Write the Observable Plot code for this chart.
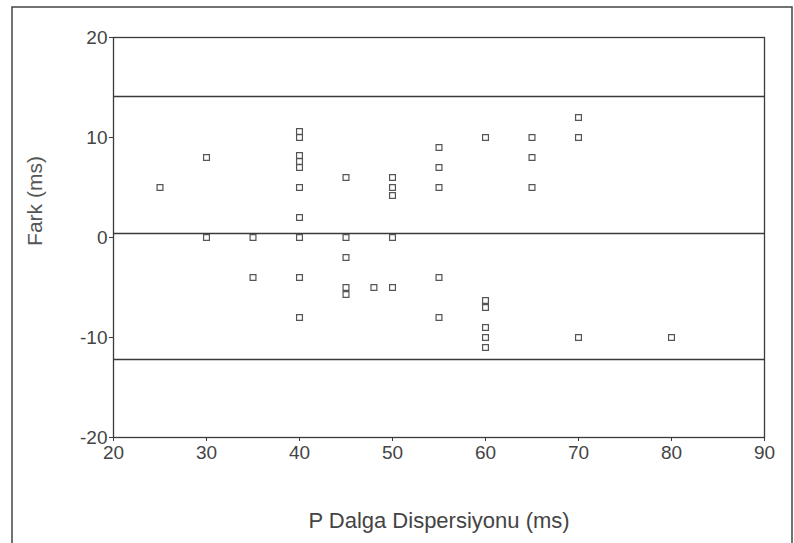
<!DOCTYPE html>
<html>
<head>
<meta charset="utf-8">
<script src="https://cdn.jsdelivr.net/npm/d3@7"></script>
<script src="https://cdn.jsdelivr.net/npm/@observablehq/plot@0.6"></script>
<style>
  html, body { margin: 0; padding: 0; background: #fff; }
  #chart { width: 794px; height: 543px; }
</style>
</head>
<body>
<div id="chart"></div>
<script>
// Data (Bland-Altman style plot)
const dispersion = [25, 30, 30, 35, 35,
  40, 40, 40, 40, 40, 40, 40, 40, 40, 40,
  45, 45, 45, 45, 45, 48,
  50, 50, 50, 50, 50,
  55, 55, 55, 55, 55,
  60, 60, 60, 60, 60, 60,
  65, 65, 65, 70, 70, 70, 80];
const difference = [5, 8, 0, 0, -4,
  10.6, 10, 8.2, 7.6, 7, 5, 2, 0, -4, -8,
  6, 0, -2, -5, -5.7, -5,
  6, 5, 4.2, 0, -5,
  9, 7, 5, -4, -8,
  10, -6.3, -7, -9, -10, -11,
  10, 8, 5, 12, 10, -10, -10];
const refLines = [14.1, 0.4, -12.2]; // upper limit, mean, lower limit
const xTicks = [20, 30, 40, 50, 60, 70, 80, 90];
const yTicks = [-20, -10, 0, 10, 20];
const xLabel = "P Dalga Dispersiyonu (ms)";
const yLabel = "Fark (ms)";

const points = dispersion.map((x, i) => ({x, y: difference[i]}));
const ink = "#3a3a3a";
const font = "'Liberation Sans', Arial, Helvetica, sans-serif";

const chart = Plot.plot({
  width: 794,
  height: 543,
  marginLeft: 113,
  marginRight: 30,
  marginTop: 37,
  marginBottom: 106,
  style: {fontFamily: font, fontSize: "17px", color: "#444", background: "#fff"},
  x: {domain: [20, 90], ticks: xTicks},
  y: {domain: [-20, 20], ticks: yTicks},
  marks: [
    Plot.frame({stroke: ink, strokeWidth: 1.3}),
    Plot.ruleY(refLines, {stroke: ink, strokeWidth: 1.6}),
    Plot.dot(points, {x: "x", y: "y", symbol: "square", r: 3.3, stroke: "#555", strokeWidth: 1.2, fill: "none"}),
    Plot.axisX({ticks: xTicks, tickSize: 4, tickPadding: 4, label: null, stroke: ink, fontSize: 19, tickFormat: d => String(d)}),
    Plot.axisY({ticks: yTicks, tickSize: 4, tickPadding: 2, label: null, stroke: ink, fontSize: 19, tickFormat: d => String(d)})
  ]
});

document.getElementById("chart").appendChild(chart);

const svg = d3.select(chart);
// outer border around the whole figure
svg.insert("rect", ":first-child")
  .attr("x", 12).attr("y", 7).attr("width", 780).attr("height", 545)
  .attr("fill", "none").attr("stroke", "#444").attr("stroke-width", 1.5);

svg.append("text")
  .attr("x", 439).attr("y", 528)
  .attr("text-anchor", "middle")
  .attr("font-family", font).attr("font-size", 22).attr("fill", "#444")
  .text(xLabel);

svg.append("text")
  .attr("transform", "translate(42,201) rotate(-90)")
  .attr("text-anchor", "middle")
  .attr("font-family", font).attr("font-size", 21).attr("fill", "#555")
  .text(yLabel);
</script>
</body>
</html>
